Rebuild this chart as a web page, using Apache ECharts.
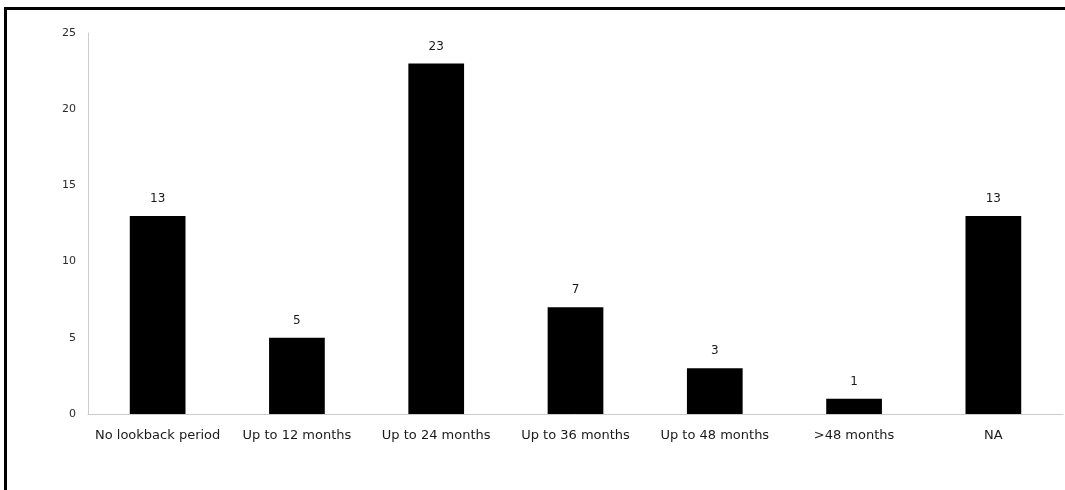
<!DOCTYPE html>
<html>
<head>
<meta charset="utf-8">
<script src="https://cdn.jsdelivr.net/npm/echarts@6/dist/echarts.min.js"></script>
<style>
  html, body { margin: 0; padding: 0; background: #fff; }
  #chart { width: 1065px; height: 490px; }
</style>
</head>
<body>
<div id="chart"></div>
<script>
// Lookback periods and their counts
const categories = ['No lookback period', 'Up to 12 months', 'Up to 24 months', 'Up to 36 months', 'Up to 48 months', '>48 months', 'NA'];
const counts = [13, 5, 23, 7, 3, 1, 13];

const chart = echarts.init(document.getElementById('chart'), null, { renderer: 'canvas' });
const font = 'DejaVu Sans, Verdana, sans-serif';

chart.setOption({
  animation: false,
  backgroundColor: '#ffffff',
  grid: { left: 88, right: 2, top: 33, bottom: 76, containLabel: false },
  xAxis: {
    type: 'category',
    data: categories,
    axisLine: { lineStyle: { color: '#cccccc', width: 1 } },
    axisTick: { show: false },
    axisLabel: { interval: 0, hideOverlap: false, color: '#1a1a1a', fontFamily: font, fontSize: 13, margin: 15 }
  },
  yAxis: {
    type: 'value',
    min: 0,
    max: 25,
    interval: 5,
    axisLine: { show: true, lineStyle: { color: '#cccccc', width: 1 } },
    axisTick: { show: false },
    splitLine: { show: false },
    axisLabel: { color: '#2a2a2a', fontFamily: font, fontSize: 11, margin: 12 }
  },
  series: [{
    type: 'bar',
    data: counts,
    barCategoryGap: '60%',
    itemStyle: { color: '#000000' },
    label: {
      show: true,
      position: 'top',
      distance: 11,
      color: '#1a1a1a',
      fontFamily: font,
      fontSize: 12
    }
  }],
  graphic: [
    { type: 'line', shape: { x1: 4, y1: 8.5, x2: 1065, y2: 8.5 }, style: { stroke: '#000', lineWidth: 3 } },
    { type: 'line', shape: { x1: 5.5, y1: 7, x2: 5.5, y2: 490 }, style: { stroke: '#000', lineWidth: 3 } }
  ]
});
</script>
</body>
</html>
